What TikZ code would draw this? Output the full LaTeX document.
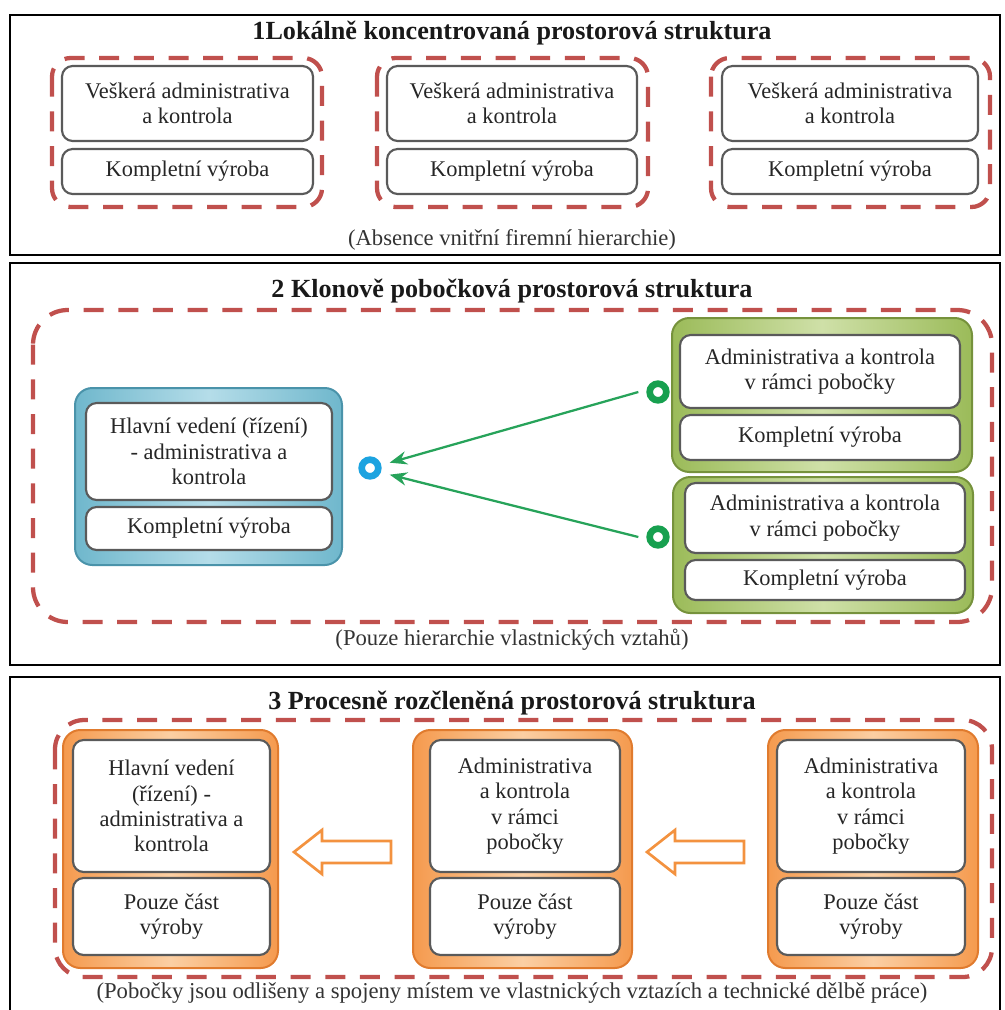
\documentclass[tikz,border=0pt]{standalone}
\usepackage{fontspec}
\setmainfont{Liberation Serif}
\usetikzlibrary{arrows.meta}

\definecolor{dashred}{HTML}{C0504D}
\definecolor{cellgray}{HTML}{5A5A5A}
\definecolor{bluefr}{HTML}{6FB7CC}
\definecolor{bluefrdark}{HTML}{4A93AA}
\definecolor{bluefrlight}{HTML}{B5DDE9}
\definecolor{greenfr}{HTML}{9BBB59}
\definecolor{greenfrdark}{HTML}{76923C}
\definecolor{greenfrlight}{HTML}{CFE0A8}
\definecolor{orangefr}{HTML}{F59A4E}
\definecolor{orangefrdark}{HTML}{E07B2E}
\definecolor{orangefrlight}{HTML}{FBCFA3}
\definecolor{ringblue}{HTML}{1CA3E0}
\definecolor{ringgreen}{HTML}{17A04F}
\definecolor{linkgreen}{HTML}{27A35A}
\definecolor{blockorange}{HTML}{F3923F}

\begin{document}
\begin{tikzpicture}[x = 0.75pt, y = -0.75pt,
        panel/.style = {draw = black, line width = 2pt},
        group/.style = {draw = dashred, line width = 3.2pt, dash pattern = on 15pt off 11pt, rounded corners = #1},
        size/.style 2 args = {minimum width = #1*0.75pt, minimum height = #2*0.75pt},
        frame/.style = {draw = #1dark, line width = 1.5pt, rounded corners = 13pt, left color = #1, right color = #1, middle color = #1light, inner sep = 0pt},
        cell/.style = {draw = cellgray, fill = white, line width = 1.6pt, rounded corners = 8pt, align = center, inner sep = 0pt, text = black!85, font = \fontsize{16.8}{19}\selectfont},
        title/.style = {font = \fontsize{19.6}{23}\selectfont\bfseries, text = black!90},
        note/.style = {font = \fontsize{17}{20}\selectfont, text = black!80},
        ring/.style = {circle, draw = #1, line width = 5pt, minimum size = 12.5pt, inner sep = 0pt, fill = white},
        link/.style = {draw = linkgreen, line width = 1.7pt, -{Stealth[length = 13pt, width = 10pt]}},
        blockarrow/.style = {draw = blockorange, line width = 2pt, fill = white, line join = miter}]
    \useasboundingbox (0, 0) rectangle (1004, 1010);

    % 1
    \draw[panel] (10, 15) rectangle (1000, 255);
    \node[title] (t1) at (512, 33) {1Lokálně koncentrovaná prostorová struktura};
    \draw[group = 14pt] (52, 58) rectangle (322, 207)
                        (377, 58) rectangle (648, 207)
                        (711, 58) rectangle (990, 207);
    \node[cell, size = {251}{75}] (a1) at (187.5, 103.5) {Veškerá administrativa\\a kontrola};
    \node[cell, size = {251}{45}] (v1) at (187.5, 171.5) {Kompletní výroba};
    \node[cell, size = {250}{75}] (a2) at (512, 103.5) {Veškerá administrativa\\a kontrola};
    \node[cell, size = {250}{45}] (v2) at (512, 171.5) {Kompletní výroba};
    \node[cell, size = {256}{75}] (a3) at (850, 103.5) {Veškerá administrativa\\a kontrola};
    \node[cell, size = {256}{45}] (v3) at (850, 171.5) {Kompletní výroba};
    \node[note] (n1) at (512, 240) {(Absence vnitřní firemní hierarchie)};

    % 2
    \draw[panel] (10, 263) rectangle (1000, 665);
    \node[title] (t2) at (512, 291) {2 Klonově pobočková prostorová struktura};
    \draw[group = 26pt] (33, 310) rectangle (992, 622);
    \node[frame = bluefr, size = {267}{177}] (hqf) at (208.5, 476.5) {};
    \node[cell, size = {246}{97}] (hqa) at (209, 451.5) {Hlavní vedení (řízení)\\- administrativa a\\kontrola};
    \node[cell, size = {246}{43}] (hqv) at (209, 528.5) {Kompletní výroba};
    \node[frame = greenfr, size = {300}{154}] (b1f) at (822, 395) {};
    \node[cell, size = {280}{73}] (b1a) at (820, 371.5) {Administrativa a kontrola\\v rámci pobočky};
    \node[cell, size = {280}{45}] (b1v) at (820, 437.5) {Kompletní výroba};
    \node[frame = greenfr, size = {300}{136}] (b2f) at (823, 545) {};
    \node[cell, size = {280}{70}] (b2a) at (825, 518) {Administrativa a kontrola\\v rámci pobočky};
    \node[cell, size = {280}{40}] (b2v) at (825, 580) {Kompletní výroba};
    \node[ring = ringblue] (hq) at (370, 468) {};
    \node[ring = ringgreen] (b1) at (658, 392) {};
    \node[ring = ringgreen] (b2) at (658, 537) {};
    \draw[link] ([xshift = -6pt]b1.west) -- ([xshift = 6pt, yshift = 4pt]hq.east);
    \draw[link] ([xshift = -6pt]b2.west) -- ([xshift = 6pt, yshift = -5pt]hq.east);
    \node[note] (n2) at (512, 640) {(Pouze hierarchie vlastnických vztahů)};

    % 3
    \draw[panel] (10, 1014) |- (1000, 677) -- (1000, 1014);
    \node[title] (t3) at (512, 703) {3 Procesně rozčleněná prostorová struktura};
    \draw[group = 22pt] (55, 720) rectangle (992, 977);
    \node[frame = orangefr, size = {215}{238}] (p1f) at (170.5, 849) {};
    \node[cell, size = {197}{132}] (p1a) at (171.5, 806) {Hlavní vedení\\(řízení) -\\administrativa a\\kontrola};
    \node[cell, size = {197}{77}] (p1v) at (171.5, 916.5) {Pouze část\\výroby};
    \node[frame = orangefr, size = {219}{238}] (p2f) at (522.5, 849) {};
    \node[cell, size = {190}{132}] (p2a) at (525, 806) {Administrativa\\a kontrola\\v rámci\\pobočky};
    \node[cell, size = {190}{77}] (p2v) at (525, 916.5) {Pouze část\\výroby};
    \node[frame = orangefr, size = {210}{238}] (p3f) at (873, 849) {};
    \node[cell, size = {188}{132}] (p3a) at (871, 806) {Administrativa\\a kontrola\\v rámci\\pobočky};
    \node[cell, size = {188}{77}] (p3v) at (871, 916.5) {Pouze část\\výroby};
    \foreach \tip in {294, 647}
        \draw[blockarrow] (\tip, 852) -- ++(28, -22) -- ++(0, 11) -- ++(69, 0) -- ++(0, 22)
                          -- ++(-69, 0) -- ++(0, 11) -- cycle;
    \node[note] (n3) at (512, 993) {(Pobočky jsou odlišeny a spojeny místem ve vlastnických vztazích a technické dělbě práce)};
\end{tikzpicture}
\end{document}
